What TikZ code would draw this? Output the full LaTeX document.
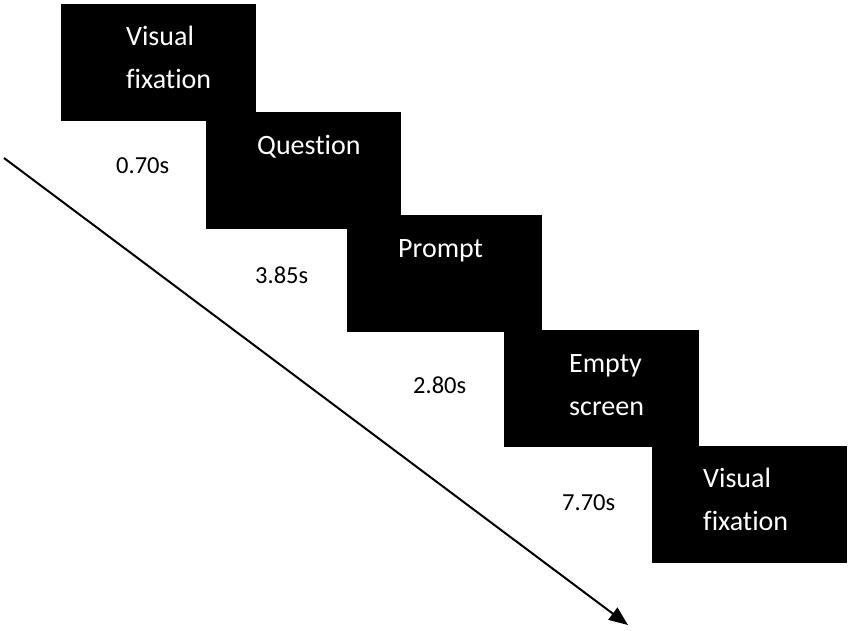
\documentclass[tikz,border=0pt]{standalone}
\usepackage{fontspec}
\setmainfont{Carlito}[Ligatures=NoCommon]
\usetikzlibrary{arrows.meta}
\begin{document}
\begin{tikzpicture}[x=1pt,y=-1pt,
  screenbox/.style={fill=black, draw=none, minimum width=195pt, minimum height=117pt, inner sep=0pt, outer sep=0pt, anchor=north west},
  boxlabel/.style={text=white, font=\fontsize{28}{42.5}\selectfont, align=left, anchor=base west, inner sep=0pt},
  timelabel/.style={text=black, font=\fontsize{24.5}{29}\selectfont, anchor=base west, inner sep=0pt},
  timearrow/.style={line width=2pt, -{Triangle[length=19pt,width=15pt]}}]
\fill[white] (0,0) rectangle (850,630);
\useasboundingbox (0,0) rectangle (850,630);
% screens
\node[screenbox] (b1) at (61,4) {};
\node[screenbox] (b2) at (206,112) {};
\node[screenbox] (b3) at (347,215) {};
\node[screenbox] (b4) at (504,330) {};
\node[screenbox] (b5) at (652,446) {};
% screen labels (base = baseline of last line)
\node[boxlabel] (l1) at (126,88) {Visual\\fixation};
\node[boxlabel] (l2) at (257,154) {Question};
\node[boxlabel] (l3) at (398,257) {Prompt};
\node[boxlabel] (l4) at (569,415) {Empty\\screen};
\node[boxlabel] (l5) at (703,530) {Visual\\fixation};
% durations
\node[timelabel] (t1) at (116,173) {0.70s};
\node[timelabel] (t2) at (255,283) {3.85s};
\node[timelabel] (t3) at (413,393) {2.80s};
\node[timelabel] (t4) at (562,510) {7.70s};
% time axis
\coordinate (ts) at (4,158);
\coordinate (te) at (628,625);
\draw[timearrow] (ts) -- (te);
\end{tikzpicture}
\end{document}
